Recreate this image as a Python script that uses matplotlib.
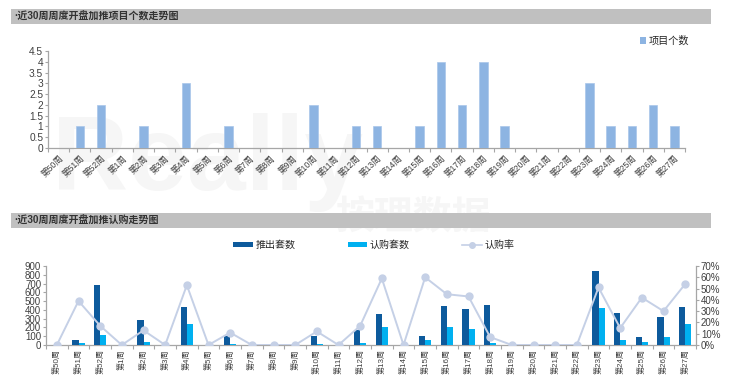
import matplotlib
matplotlib.use("Agg")
import matplotlib.pyplot as plt
import numpy as np
from matplotlib.patches import Rectangle, Patch
from matplotlib.lines import Line2D
from matplotlib.ticker import FixedLocator, FuncFormatter

plt.rcParams['font.family'] = ['Liberation Sans', 'Noto Sans CJK SC', 'DejaVu Sans']

weeks = ['第50周', '第51周', '第52周'] + [f'第{i}周' for i in range(1, 28)]
project_counts = [0, 1, 2, 0, 1, 0, 3, 0, 1, 0, 0, 0, 2, 0, 1, 1, 0, 1, 4, 2,
                  4, 1, 0, 0, 0, 3, 1, 1, 2, 1]
pushed_units = [0, 60, 685, 0, 284, 0, 431, 0, 102, 0, 0, 0, 102, 0, 166, 348, 0, 102, 439, 408,
                454, 0, 0, 0, 0, 840, 363, 95, 318, 431]
subscribed_units = [0, 26, 117, 0, 34, 0, 234, 0, 11, 0, 0, 0, 11, 0, 26, 208, 0, 60, 200, 178,
                    26, 0, 0, 0, 0, 424, 53, 34, 95, 234]
subscription_rate = [0, 39, 17, 0, 13, 0, 53, 0, 11, 0, 0, 0, 12, 0, 17, 59, 0, 60, 45, 43,
                     7, 0, 0, 0, 0, 51, 15, 42, 30, 54]

title_top = '·近30周周度开盘加推项目个数走势图'
title_bottom = '·近30周周度开盘加推认购走势图'

W, H = 740, 392
fig = plt.figure(figsize=(7.4, 3.92), dpi=100)
fig.patch.set_facecolor('white')

def fx(px):
    return px / W

def fy(py):
    return 1 - py / H

# faint watermark
wm = '#f6f6f6'
fig.text(fx(52), fy(190), 'Really', fontsize=76, fontweight='bold', color=wm,
         family=['Liberation Sans'], zorder=-2, va='baseline')
fig.text(fx(335), fy(229), '按理数据', fontsize=28, fontweight='bold', color=wm,
         family=['Noto Sans CJK SC'], zorder=-2, va='baseline')

# title bands
for y0, y1, t in [(9, 24, title_top), (213, 228, title_bottom)]:
    fig.patches.append(Rectangle((fx(11), fy(y1)), fx(711) - fx(11), fy(y0) - fy(y1),
                                 transform=fig.transFigure, facecolor='#c0c0c0',
                                 edgecolor='none', zorder=1))
    fig.text(fx(14), (fy(y0) + fy(y1)) / 2, t, fontsize=7.2, fontweight='bold',
             color='#333333', va='center', ha='left', zorder=2)

x = np.arange(len(weeks))
axis_color = '#a6a6a6'
text_color = '#404040'

# ---- top chart ----
ax1 = fig.add_axes([fx(48), fy(148), fx(685) - fx(48), fy(51) - fy(148)])
ax1.patch.set_alpha(0)
ax1.bar(x, project_counts, width=0.4, color='#8db4e2', edgecolor='#a9c6ea', linewidth=0.5,
        label='项目个数', zorder=3)
ax1.set_xlim(-0.5, len(weeks) - 0.5)
ax1.set_ylim(0, 4.5)
ax1.set_yticks(np.arange(0, 4.51, 0.5))
ax1.yaxis.set_major_formatter(FuncFormatter(lambda v, p: f'{v:g}'))
ax1.set_xticks(x)
ax1.set_xticklabels(weeks, rotation=45, ha='right', rotation_mode='anchor', fontsize=6.2,
                    color=text_color)
ax1.xaxis.set_minor_locator(FixedLocator(np.arange(-0.5, len(weeks), 1)))
ax1.tick_params(axis='x', which='major', length=0, pad=4)
ax1.tick_params(axis='x', which='minor', length=3, color=axis_color, width=0.8)
ax1.tick_params(axis='y', labelsize=7.3, length=2, color=axis_color, pad=1.5,
                labelcolor=text_color)
for s in ['top', 'right']:
    ax1.spines[s].set_visible(False)
for s in ['left', 'bottom']:
    ax1.spines[s].set_color(axis_color)
    ax1.spines[s].set_linewidth(0.9)
leg1 = fig.legend(handles=[Patch(facecolor='#8db4e2', edgecolor='none', label='项目个数')],
                  loc='center left', bbox_to_anchor=(fx(640), fy(41)), frameon=False,
                  fontsize=7.3, handlelength=0.6, handleheight=0.6, handletextpad=0.3,
                  borderpad=0, borderaxespad=0)
for t in leg1.get_texts():
    t.set_color('#262626')

# ---- bottom chart ----
ax2 = fig.add_axes([fx(46), fy(345), fx(696) - fx(46), fy(266) - fy(345)])
ax2.patch.set_alpha(0)
bw = 0.28
ax2.bar(x - bw / 2, pushed_units, width=bw, color='#0d5a9c', zorder=3)
ax2.bar(x + bw / 2, subscribed_units, width=bw, color='#00b0f0', zorder=3)
ax2.set_xlim(-0.5, len(weeks) - 0.5)
ax2.set_ylim(0, 900)
ax2.set_yticks(np.arange(0, 901, 100))
ax2.set_xticks(x)
ax2.set_xticklabels(weeks, rotation=90, ha='center', va='top', fontsize=5.8, color=text_color)
ax2.xaxis.set_minor_locator(FixedLocator(np.arange(-0.5, len(weeks), 1)))
ax2.tick_params(axis='x', which='major', length=0, pad=3)
ax2.tick_params(axis='x', which='minor', length=3, color=axis_color, width=0.8)
ax2.tick_params(axis='y', labelsize=7, length=2, color=axis_color, pad=1.5,
                labelcolor=text_color)
for s in ['top', 'right']:
    ax2.spines[s].set_visible(False)
for s in ['left', 'bottom']:
    ax2.spines[s].set_color(axis_color)
    ax2.spines[s].set_linewidth(0.9)

ax3 = ax2.twinx()
ax3.plot(x, subscription_rate, color='#c5d0e6', linewidth=1.4, marker='o', markersize=5,
         markerfacecolor='#c5d0e6', markeredgecolor='#c5d0e6', zorder=4)
ax3.set_ylim(0, 70)
ax3.set_yticks(np.arange(0, 71, 10))
ax3.yaxis.set_major_formatter(FuncFormatter(lambda v, p: f'{v:.0f}%'))
ax3.tick_params(axis='y', labelsize=7, length=2, color=axis_color, pad=1.5,
                labelcolor=text_color)
for s in ['top', 'left', 'bottom']:
    ax3.spines[s].set_visible(False)
ax3.spines['right'].set_color(axis_color)
ax3.spines['right'].set_linewidth(0.9)

handles = [Patch(facecolor='#0d5a9c', edgecolor='none', label='推出套数'),
           Patch(facecolor='#00b0f0', edgecolor='none', label='认购套数'),
           Line2D([0], [0], color='#c5d0e6', linewidth=1.2, marker='o', markersize=4,
                  label='认购率')]
leg2 = fig.legend(handles=handles, loc='center left', bbox_to_anchor=(fx(233), fy(245)),
                  ncol=3, frameon=False, fontsize=7.2, handlelength=1.95, handleheight=0.35,
                  handletextpad=0.3, columnspacing=5.2, borderpad=0, borderaxespad=0)
for t in leg2.get_texts():
    t.set_color('#262626')

fig.savefig('out.png', dpi=100, facecolor='white')
